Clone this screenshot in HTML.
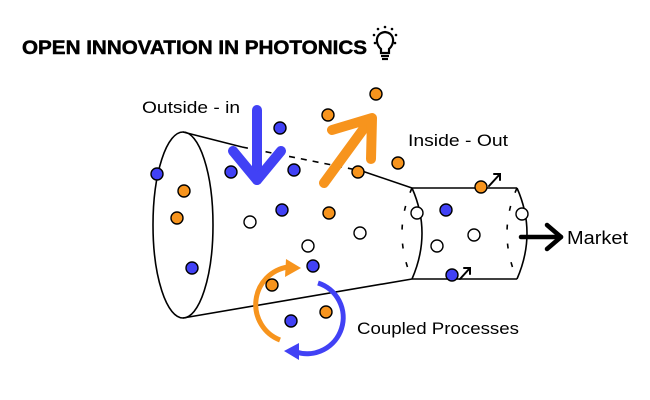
<!DOCTYPE html>
<html><head><meta charset="utf-8"><style>html,body{margin:0;padding:0;background:#fff}svg{display:block}</style></head>
<body>
<svg width="650" height="400" viewBox="0 0 650 400" xmlns="http://www.w3.org/2000/svg" font-family="Liberation Sans, sans-serif">
<rect width="650" height="400" fill="#fff"/>
<text x="22" y="54" font-size="19" font-weight="bold" stroke="#000" stroke-width="0.5" textLength="345" lengthAdjust="spacingAndGlyphs">OPEN INNOVATION IN PHOTONICS</text>
<!-- bulb -->
<g stroke="#000" fill="none" stroke-width="2.2">
<path d="M381 49 C375 44 375 33 385 32 C395 33 395 44 389 49 L389 53 L381 53 Z"/>
<line x1="381" y1="56" x2="389" y2="56"/>
<line x1="382" y1="59" x2="388" y2="59"/>
</g>
<g fill="#000"><circle cx="385" cy="27" r="1.3"/><circle cx="378" cy="29" r="1.3"/><circle cx="392" cy="29" r="1.3"/><circle cx="374" cy="35" r="1.3"/><circle cx="396" cy="35" r="1.3"/><circle cx="375" cy="43" r="1.3"/><circle cx="395" cy="43" r="1.3"/></g>

<g stroke="#000" fill="none" stroke-width="1.6">
<ellipse cx="183" cy="225" rx="30" ry="93"/>
<line x1="183" y1="132" x2="242" y2="147"/>
<line x1="242" y1="147" x2="362" y2="171" stroke-dasharray="6,6"/>
<line x1="362" y1="171" x2="412" y2="188"/>
<line x1="183" y1="318" x2="412" y2="279"/>
<path d="M412 188 Q432 233 412 279"/>
<path d="M412 188 Q392 233 412 279" stroke-dasharray="5,14"/>
<line x1="412" y1="188" x2="517" y2="188"/>
<line x1="412" y1="279" x2="517" y2="279"/>
<path d="M517 188 Q537 233 517 279"/>
<path d="M517 188 Q497 233 517 279" stroke-dasharray="5,14"/>
</g>

<!-- market arrow -->
<g stroke="#000" stroke-width="4.5" fill="none" stroke-linecap="round" stroke-linejoin="round">
<line x1="521" y1="237" x2="561" y2="237"/>
<polyline points="547,225 561,237 547,249"/>
</g>
<text x="567" y="244" font-size="18" textLength="61" lengthAdjust="spacingAndGlyphs">Market</text>

<!-- small arrows -->
<g stroke="#000" stroke-width="2" fill="none" stroke-linecap="round">
<line x1="489" y1="186" x2="500" y2="174"/><polyline points="494,174 500,174 500,180"/>
<line x1="460" y1="279" x2="470" y2="268"/><polyline points="464,268 470,268 470,274"/>
</g>

<!-- big arrows -->
<g stroke-width="10" fill="none" stroke-linecap="round" stroke-linejoin="round">
<line x1="257" y1="110" x2="257" y2="180" stroke="#4141f5"/>
<polyline points="233,151 257,180 281,151" stroke="#4141f5"/>
<line x1="324" y1="183" x2="370" y2="120" stroke="#f7941d"/>
<polyline points="332,130 372,118 371,159" stroke="#f7941d"/>
</g>

<!-- cycles -->
<g fill="none" stroke-width="5">
<path d="M280 340 A38 38 0 0 1 288 267" stroke="#f7941d"/>
<path d="M318 283 A36 36 0 0 1 296 352" stroke="#4141f5"/>
</g>
<polygon points="286,259 301,268 285,277" fill="#f7941d"/>
<polygon points="299,343 284,351 299,360" fill="#4141f5"/>

<!-- dots -->
<g stroke="#000" stroke-width="1.4">
<g fill="#4141f5">
<circle cx="157" cy="174" r="6"/><circle cx="192" cy="268" r="6"/><circle cx="231" cy="172" r="6"/><circle cx="280" cy="128" r="6"/><circle cx="294" cy="170" r="6"/><circle cx="282" cy="210" r="6"/><circle cx="313" cy="266" r="6"/><circle cx="291" cy="321" r="6"/><circle cx="446" cy="210" r="6"/><circle cx="452" cy="275" r="6"/>
</g>
<g fill="#f7941d">
<circle cx="184" cy="191" r="6"/><circle cx="177" cy="218" r="6"/><circle cx="376" cy="94" r="6"/><circle cx="328" cy="115" r="6"/><circle cx="398" cy="163" r="6"/><circle cx="358" cy="172" r="6"/><circle cx="329" cy="213" r="6"/><circle cx="272" cy="285" r="6"/><circle cx="326" cy="312" r="6"/><circle cx="481" cy="187" r="6"/>
</g>
<g fill="#fff">
<circle cx="250" cy="222" r="6"/><circle cx="360" cy="233" r="6"/><circle cx="308" cy="246" r="6"/><circle cx="417" cy="213" r="6"/><circle cx="437" cy="246" r="6"/><circle cx="474" cy="235" r="6"/><circle cx="522" cy="214" r="6"/>
</g>
</g>

<text x="142" y="113" font-size="17" textLength="98" lengthAdjust="spacingAndGlyphs">Outside - in</text>
<text x="408" y="146" font-size="17" textLength="100" lengthAdjust="spacingAndGlyphs">Inside - Out</text>
<text x="357" y="334" font-size="17" textLength="162" lengthAdjust="spacingAndGlyphs">Coupled Processes</text>
</svg>
</body></html>
